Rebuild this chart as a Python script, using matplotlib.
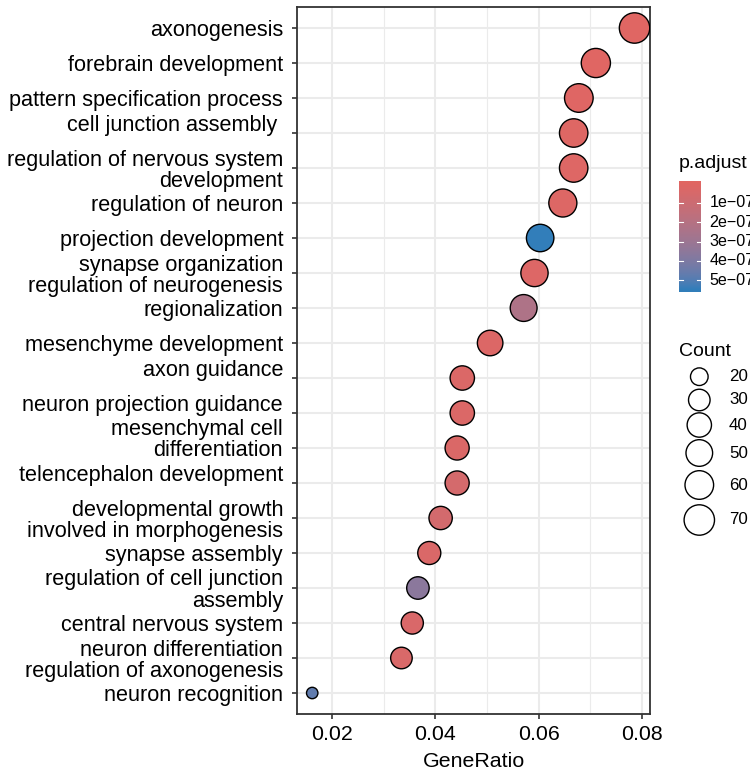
import matplotlib
matplotlib.use("Agg")
import matplotlib.pyplot as plt
from matplotlib.colors import ListedColormap, Normalize
import numpy as np

plt.rcParams['font.family'] = ['Liberation Sans', 'DejaVu Sans']

# GO terms, top to bottom as drawn on the y axis
terms = [
    "axonogenesis",
    "forebrain development",
    "pattern specification process",
    "cell junction assembly \n",
    "regulation of nervous system\ndevelopment",
    "regulation of neuron",
    "projection development",
    "synapse organization\nregulation of neurogenesis",
    "regionalization",
    "mesenchyme development",
    "axon guidance\n",
    "neuron projection guidance\n",
    "mesenchymal cell\ndifferentiation\n",
    "telencephalon development\n",
    "developmental growth\ninvolved in morphogenesis",
    "synapse assembly",
    "regulation of cell junction\nassembly",
    "central nervous system",
    "neuron differentiation\nregulation of axonogenesis",
    "neuron recognition",
]
gene_ratio = [0.0786, 0.0711, 0.0678, 0.0668, 0.0668, 0.0647, 0.0603, 0.0592,
              0.0571, 0.0506, 0.0452, 0.0452, 0.0442, 0.0442, 0.0410, 0.0388,
              0.0366, 0.0355, 0.0334, 0.0161]
count = [70, 63, 60, 59, 59, 57, 54, 53, 51, 45, 40, 40, 39, 39, 36, 35, 33,
         32, 30, 14]
p_adjust = [1e-9, 4e-9, 8e-9, 1.0e-8, 1.2e-8, 1.6e-8, 5.46e-7, 2.0e-8,
            2.3e-7, 2.4e-8, 2.6e-8, 2.8e-8, 3.0e-8, 6.0e-8, 6.5e-8, 3.4e-8,
            3.6e-7, 3.6e-8, 3.8e-8, 4.7e-7]

size_breaks = [20, 30, 40, 50, 60, 70]
p_breaks = [1e-7, 2e-7, 3e-7, 4e-7, 5e-7]
p_labels = ["1e\u221207", "2e\u221207", "3e\u221207", "4e\u221207", "5e\u221207"]

low_col = "#e06663"
high_col = "#327eba"


# gradient interpolated in CIE Lab, like scales::seq_gradient_pal
def hex_rgb(h):
    return np.array([int(h[i:i + 2], 16) for i in (1, 3, 5)]) / 255.0

M = np.array([[0.4124, 0.3576, 0.1805],
              [0.2126, 0.7152, 0.0722],
              [0.0193, 0.1192, 0.9505]])
WHITE = np.array([0.95047, 1.0, 1.08883])

def rgb2lab(rgb):
    lin = np.where(rgb <= 0.04045, rgb / 12.92, ((rgb + 0.055) / 1.055) ** 2.4)
    xyz = M @ lin / WHITE
    f = np.where(xyz > (6 / 29) ** 3, np.cbrt(xyz), xyz / (3 * (6 / 29) ** 2) + 4 / 29)
    return np.array([116 * f[1] - 16, 500 * (f[0] - f[1]), 200 * (f[1] - f[2])])

def lab2rgb(lab):
    fy = (lab[0] + 16) / 116
    f = np.array([fy + lab[1] / 500, fy, fy - lab[2] / 200])
    xyz = np.where(f > 6 / 29, f ** 3, 3 * (6 / 29) ** 2 * (f - 4 / 29)) * WHITE
    lin = np.linalg.solve(M, xyz)
    lin = np.clip(lin, 0, 1)
    rgb = np.where(lin <= 0.0031308, 12.92 * lin, 1.055 * lin ** (1 / 2.4) - 0.055)
    return np.clip(rgb, 0, 1)

lab_lo, lab_hi = rgb2lab(hex_rgb(low_col)), rgb2lab(hex_rgb(high_col))
cmap = ListedColormap([lab2rgb(lab_lo + t * (lab_hi - lab_lo)) for t in np.linspace(0, 1, 256)])
norm = Normalize(vmin=min(p_adjust), vmax=max(p_adjust))


# ggplot-style area scaling of point size, range 3..8
def point_size(c):
    cmin, cmax = min(count), max(count)
    mm = 3 + 5 * np.sqrt((np.asarray(c, float) - cmin) / (cmax - cmin))
    return (mm * 3.8 * 0.72) ** 2

W, H = 750, 771
fig = plt.figure(figsize=(W / 100, H / 100), dpi=100)
ax = fig.add_axes([297 / W, 1 - 714 / H, 353 / W, 707 / H])

n = len(terms)
ypos = np.arange(n, 0, -1)
ax.scatter(gene_ratio, ypos, s=point_size(count), c=p_adjust, cmap=cmap, norm=norm,
           edgecolors="black", linewidths=1.0, zorder=3)

ax.set_ylim(0.4, n + 0.6)
ax.set_xlim(0.01315, 0.0816)
ax.set_yticks(ypos)
ax.set_yticklabels(terms, fontsize=15.6, linespacing=1.02)
ax.set_xticks([0.02, 0.04, 0.06, 0.08])
ax.set_xticklabels(["0.02", "0.04", "0.06", "0.08"], fontsize=15.4)
ax.set_xticks([0.03, 0.05, 0.07], minor=True)
ax.tick_params(axis="both", which="major", length=3.5, width=1.2, color="#333333",
               labelcolor="black", pad=4.5)
ax.tick_params(axis="y", which="major", pad=6.5)
ax.tick_params(axis="x", which="minor", length=0)
ax.set_xlabel("GeneRatio", fontsize=15.4, labelpad=6)

ax.grid(which="major", color="#EBEBEB", linewidth=1.5, zorder=0)
ax.grid(which="minor", axis="x", color="#EBEBEB", linewidth=0.8, zorder=0)
ax.set_axisbelow(True)
for sp in ax.spines.values():
    sp.set_color("#333333")
    sp.set_linewidth(1.3)

# p.adjust colourbar
fig.text(679 / W, 1 - 163 / H, "p.adjust", fontsize=14, va="center", ha="left")
cax = fig.add_axes([679 / W, 1 - 292 / H, 22 / W, 111 / H])
half = (norm.vmax - norm.vmin) / 38
lo, hi = norm.vmin - half, norm.vmax + half
grad = np.linspace(lo, hi, 300).reshape(-1, 1)
cax.imshow(np.clip(grad, norm.vmin, norm.vmax), cmap=cmap, norm=norm, aspect="auto",
           origin="lower", extent=[0, 1, lo, hi])
cax.set_xlim(0, 1)
cax.set_ylim(hi, lo)
cax.set_xticks([])
cax.set_yticks([])
for sp in cax.spines.values():
    sp.set_visible(False)
for b, lab in zip(p_breaks, p_labels):
    cax.plot([0, 0.2], [b, b], color="white", lw=0.8)
    cax.plot([0.8, 1], [b, b], color="white", lw=0.8)
    cax.text(1.38, b, lab, fontsize=11.6, va="center", ha="left", transform=cax.transData,
             clip_on=False)

# Count legend
fig.text(679 / W, 1 - 352 / H, "Count", fontsize=14, va="center", ha="left")
lax = fig.add_axes([0, 0, 1, 1], facecolor="none")
lax.set_xlim(0, W)
lax.set_ylim(H, 0)
lax.axis("off")
key_y = [376.7, 400, 425, 453, 485, 520]
lax.scatter([699.3] * len(size_breaks), key_y, s=point_size(size_breaks),
            facecolors="none", edgecolors="black", linewidths=1.0)
for yk, b in zip(key_y, size_breaks):
    lax.text(729, yk, str(b), fontsize=12.2, va="center", ha="left")

fig.savefig("out.png", dpi=100)
